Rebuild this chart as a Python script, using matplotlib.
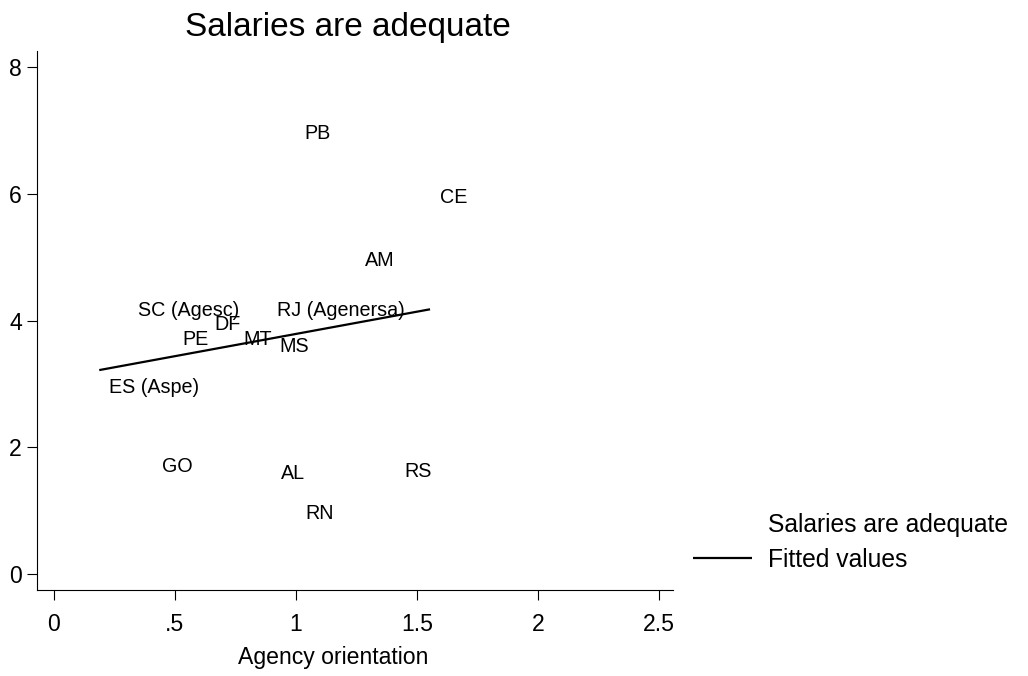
import numpy as np
import matplotlib
matplotlib.use("Agg")
import matplotlib.pyplot as plt
from matplotlib.lines import Line2D

plt.rcParams['font.family'] = ['Liberation Sans', 'DejaVu Sans']

# agency orientation (x) and "salaries are adequate" score (y)
states = ['ES (Aspe)', 'SC (Agesc)', 'PE', 'DF', 'MT', 'RJ (Agenersa)', 'MS',
          'PB', 'CE', 'AM', 'GO', 'AL', 'RS', 'RN']
orientation = [0.187, 0.305, 0.491, 0.622, 0.742, 0.879, 0.889,
               0.994, 1.554, 1.242, 0.407, 0.898, 1.407, 0.997]
salaries = [2.97, 4.18, 3.72, 3.97, 3.72, 4.19, 3.61,
            6.98, 5.96, 4.97, 1.72, 1.62, 1.65, 0.99]

# fitted line as it appears on the chart
fit_slope = 0.701
fit_intercept = 3.089

xticks = [0, 0.5, 1, 1.5, 2, 2.5]
xticklabels = ['0', '.5', '1', '1.5', '2', '2.5']
yticks = [0, 2, 4, 6, 8]

fig = plt.figure(figsize=(10.28, 6.76), dpi=100)
ax = fig.add_axes([0.03628, 0.12722, 0.61838, 0.79675])

x = np.array(orientation)
y = np.array(salaries)

# scatter with invisible markers, labels to the right of each point
ax.plot(x, y, ls='none', marker='none')
for name, xi, yi in zip(states, x, y):
    ax.annotate(name, (xi, yi), xytext=(7.2, -5.1), textcoords='offset points',
                ha='left', va='baseline', fontsize=14.2, color='black')

xf = np.array([x.min(), x.max()])
fit_line, = ax.plot(xf, fit_intercept + fit_slope * xf, color='black', lw=1.6,
                    solid_capstyle='butt')

ax.set_xlim(-0.069, 2.558)
ax.set_ylim(-0.246, 8.243)
ax.set_xticks(xticks)
ax.set_xticklabels(xticklabels)
ax.set_yticks(yticks)

for side in ['top', 'right']:
    ax.spines[side].set_visible(False)
for side in ['left', 'bottom']:
    ax.spines[side].set_linewidth(0.8)

ax.tick_params(axis='both', direction='out', length=7.5, width=0.8,
               labelsize=16.6, colors='black')
ax.tick_params(axis='x', pad=9)
ax.tick_params(axis='y', pad=3.5)

ax.set_xlabel('Agency orientation', fontsize=16.6)
ax.xaxis.set_label_coords(0.466, -0.1373)
ax.xaxis.label.set_va('baseline')

ax.text(0.489, 1.0278, 'Salaries are adequate', transform=ax.transAxes,
        ha='center', va='baseline', fontsize=24)

handles = [Line2D([], [], ls='none', marker='none'), fit_line]
fig.legend(handles, ['Salaries are adequate', 'Fitted values'],
           loc='center left', bbox_to_anchor=(693 / 1028, 0.1975),
           frameon=False, fontsize=17.7, handlelength=2.39,
           handletextpad=0.65, labelspacing=0.41, borderpad=0,
           borderaxespad=0)

fig.savefig('out.png', dpi=100)
